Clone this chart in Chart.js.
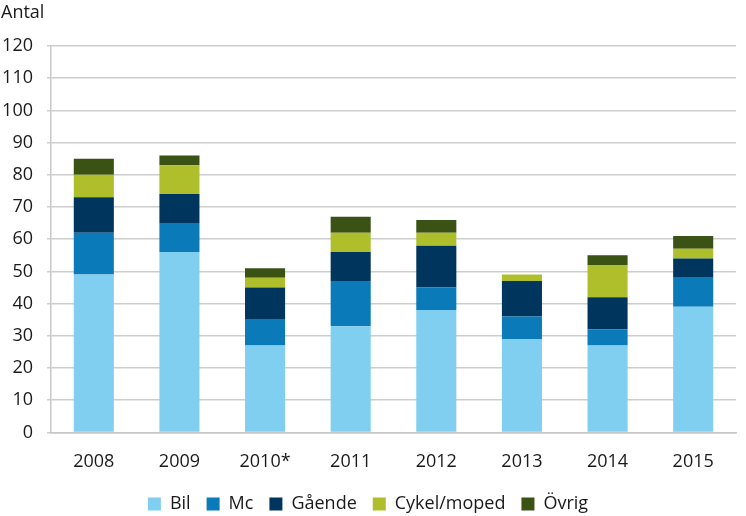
<!DOCTYPE html>
<html>
<head>
<meta charset="utf-8">
<script src="https://cdn.jsdelivr.net/npm/chart.js@4"></script>
<style>
  html, body { margin: 0; padding: 0; background: #fff; }
  #wrap { width: 746px; height: 516px; }
</style>
</head>
<body>
<div id="wrap"><canvas id="olyckorChart"></canvas></div>
<script>
const years = ["2008", "2009", "2010*", "2011", "2012", "2013", "2014", "2015"];
const bil = [49, 56, 27, 33, 38, 29, 27, 39];
const mc = [13, 9, 8, 14, 7, 7, 5, 9];
const gaende = [11, 9, 10, 9, 13, 11, 10, 6];
const cykelMoped = [7, 9, 3, 6, 4, 2, 10, 3];
const ovrig = [5, 3, 3, 5, 4, 0, 3, 4];
const yTicks = [0, 10, 20, 30, 40, 50, 60, 70, 80, 90, 100, 110, 120];

const fontFamily = "'Open Sans', 'DejaVu Sans', sans-serif";

// "Antal" over the y axis
const unitLabel = {
  id: "unitLabel",
  afterDraw(chart) {
    const ctx = chart.ctx;
    ctx.save();
    ctx.font = "18px " + fontFamily;
    ctx.fillStyle = "#1a1a1a";
    ctx.textAlign = "left";
    ctx.textBaseline = "middle";
    ctx.fillText("Antal", 1, 13);
    ctx.restore();
  },
};

document.addEventListener("DOMContentLoaded", function () {
  const ctx = document.getElementById("olyckorChart").getContext("2d");
  const bar = (label, data, color) => ({
    label: label,
    data: data,
    backgroundColor: color,
    borderWidth: 0,
    barPercentage: 0.468,
    categoryPercentage: 1,
  });

  new Chart(ctx, {
    type: "bar",
    data: {
      labels: years,
      datasets: [
        bar("Bil", bil, "#80cff1"),
        bar("Mc", mc, "#0a7bb8"),
        bar("Gående", gaende, "#00365e"),
        bar("Cykel/moped", cykelMoped, "#aebf2b"),
        bar("Övrig", ovrig, "#3a5214"),
      ],
    },
    options: {
      responsive: true,
      maintainAspectRatio: false,
      animation: false,
      layout: { padding: { top: 46, right: 10, left: 0, bottom: -7 } },
      plugins: {
        legend: {
          display: true,
          position: "bottom",
          labels: {
            color: "#1a1a1a",
            font: { family: fontFamily, size: 18 },
            boxWidth: 13,
            boxHeight: 13,
            padding: 16,
          },
        },
        tooltip: { enabled: false },
      },
      scales: {
        x: {
          stacked: true,
          afterFit(scale) {
            scale.height -= 13;
          },
          grid: { display: false, drawTicks: false },
          border: { color: "#c8c8c8", width: 1.5 },
          ticks: {
            color: "#1a1a1a",
            font: { family: fontFamily, size: 18 },
            padding: 19,
          },
        },
        y: {
          stacked: true,
          min: 0,
          max: 120,
          afterFit(scale) {
            scale.width = 51;
          },
          afterBuildTicks(scale) {
            scale.ticks = yTicks.map((v) => ({ value: v }));
          },
          grid: { color: "#cdcdcd", lineWidth: 1.5, tickLength: 4 },
          border: { color: "#c8c8c8", width: 1.5 },
          ticks: {
            color: "#1a1a1a",
            font: { family: fontFamily, size: 18 },
            padding: 14,
          },
        },
      },
    },
    plugins: [unitLabel],
  });
});
</script>
</body>
</html>
